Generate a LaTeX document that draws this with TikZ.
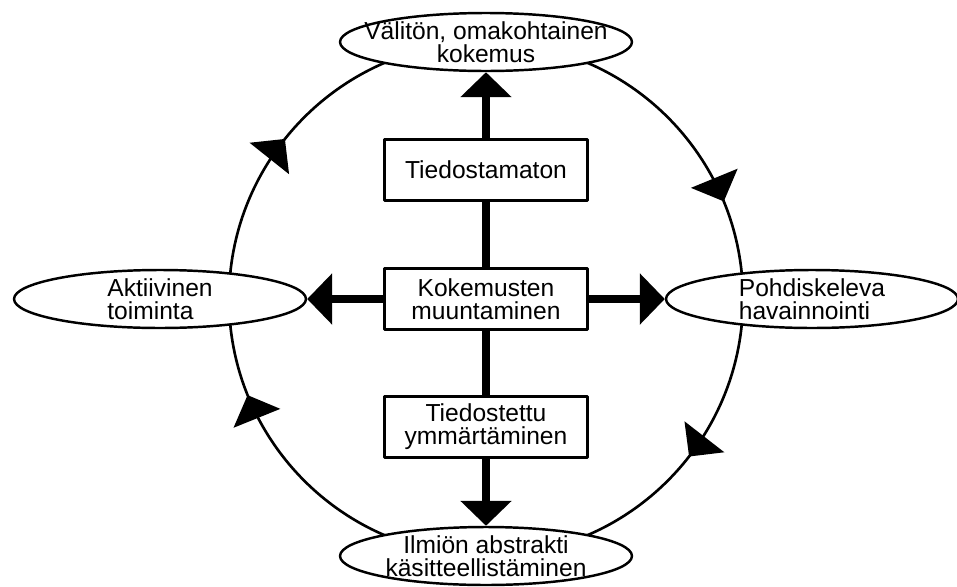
\documentclass[tikz,border=0pt]{standalone}
\usepackage{fontspec}
\setmainfont{Liberation Sans}
\usetikzlibrary{shapes.geometric,arrows.meta,decorations.markings}
\begin{document}
\begin{tikzpicture}[x=0.02cm,y=0.02cm,line join=round,
	font=\fontsize{14pt}{13pt}\selectfont,
	>={Triangle[length=0.5cm,width=1cm]},
	phase/.style={ellipse,draw,fill=white,line width=1.4pt,
		minimum width=5.84cm,minimum height=1.16cm,
		inner xsep=-1cm,inner ysep=-0.3cm,align=center},
	stage/.style={rectangle,draw,fill=white,line width=1.4pt,
		minimum width=4.06cm,minimum height=1.22cm,align=center},
	flow/.style={line width=0.16cm},
	cyc/.style={line width=1.5pt,postaction={decorate},
		decoration={markings,
			mark=at position 0.188 with {\arrow{>}},
			mark=at position 0.355 with {\arrow{>}},
			mark=at position 0.689 with {\arrow{>}},
			mark=at position 0.857 with {\arrow{>}}}}]
	\def\r{257}
	\useasboundingbox (-486,-287) rectangle (471,299);
	% kehä
	\draw[cyc] (90:\r) arc[start angle=90,end angle=-270,radius=\r];
	% vaiheet
	\node[phase] (koke) at (0,\r) {Välitön, omakohtainen\\kokemus};
	\node[phase] (ilmio) at (0,-\r) {Ilmiön abstrakti\\käsitteellistäminen};
	\node[phase,align=left] (akt) at (-326,0) {Aktiivinen\\toiminta};
	\node[phase,align=left] (pohd) at (326,0) {Pohdiskeleva\\havainnointi};
	% laatikot
	\node[stage] (kok) at (0,0) {Kokemusten\\muuntaminen};
	\node[stage] (tiedtam) at (0,129) {Tiedostamaton};
	\node[stage] (tiedtet) at (0,-128) {Tiedostettu\\ymmärtäminen};
	\draw[flow] (tiedtam) -- (kok);
	\draw[flow] (kok) -- (tiedtet);
	\draw[flow,->] (tiedtam) -- (koke);
	\draw[flow,->] (tiedtet) -- (ilmio);
	\draw[flow,->] (kok) -- (akt);
	\draw[flow,->] (kok) -- (pohd);
\end{tikzpicture}
\end{document}
